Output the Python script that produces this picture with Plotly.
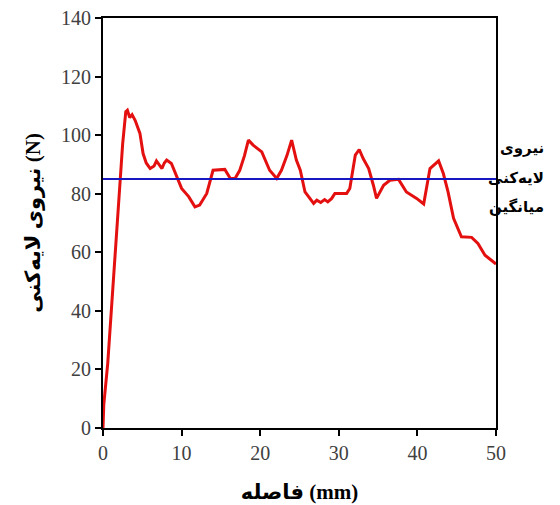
import plotly.graph_objects as go

# Peel force vs distance
distance_mm = [0, 0.1, 0.6, 1.2, 1.9, 2.5, 2.9, 3.1, 3.4, 3.7, 4.1, 4.4, 4.7, 5.1, 5.5, 6.0,
               6.5, 6.8, 7.2, 7.5, 7.8, 8.1, 8.7, 9.4, 10.0, 10.9, 11.7, 12.3, 13.2, 14.0,
               15.5, 16.2, 16.8, 17.4, 18.0, 18.5, 19.1, 20.2, 21.2, 22.1, 22.7, 23.4, 24.0,
               24.6, 25.1, 25.7, 26.3, 26.8, 27.2, 27.7, 28.2, 28.6, 29.1, 29.5, 31.0, 31.4,
               32.1, 32.6, 33.1, 33.8, 34.4, 34.8, 35.7, 36.5, 37.6, 38.6, 39.9, 40.8, 41.6,
               42.7, 43.3, 43.9, 44.6, 45.6, 46.9, 47.7, 48.6, 49.6, 50.0]
force_N = [0, 8, 22, 45, 75, 97, 108, 108.5, 106, 107, 105, 103, 100.6, 93.7, 90.5, 88.6,
           89.5, 91.2, 89.5, 88.6, 90.5, 91.5, 90.3, 85.8, 81.8, 79.0, 75.5, 76.1, 80.1, 88.0,
           88.3, 85.2, 85.2, 88.0, 93.0, 98.3, 96.6, 94.3, 88.0, 85.2, 88.0, 93.0, 98.3,
           91.5, 88.0, 80.6, 78.4, 76.7, 77.8, 77.0, 78.0, 77.2, 78.4, 80.1, 80.1, 81.8,
           93.2, 95.1, 92.0, 88.6, 82.9, 78.4, 82.9, 84.6, 84.9, 80.6, 78.4, 76.5, 88.6,
           91.2, 86.9, 80.6, 71.6, 65.3, 65.1, 63.0, 59.0, 56.8, 56.0]

mean_x = [0, 50]
mean_force = [85, 85]

x_ticks = [0, 10, 20, 30, 40, 50]
y_ticks = [0, 20, 40, 60, 80, 100, 120, 140]

x_title = "فاصله (mm)"
y_title = "نیروی لایەکنی (N)"
mean_label_lines = ["نیروی", "لایەکنی", "میانگین"]

serif = "Liberation Serif, DejaVu Sans, serif"

fig = go.Figure()
fig.add_trace(go.Scatter(x=distance_mm, y=force_N, mode="lines",
                         line=dict(color="#e41010", width=3), showlegend=False))
fig.add_trace(go.Scatter(x=mean_x, y=mean_force, mode="lines",
                         line=dict(color="#1818c0", width=2), showlegend=False))

axis_common = dict(showgrid=False, zeroline=False, showline=True, linecolor="black",
                   linewidth=2, mirror=True, ticks="outside", ticklen=6, tickwidth=2,
                   tickcolor="black", automargin=False, ticklabeloverflow="allow",
                   tickfont=dict(family=serif, size=20, color="#404040"))

fig.update_xaxes(range=[0, 50], tickvals=x_ticks, **axis_common,
                 title=dict(text=x_title, font=dict(family=serif, size=21, color="black",
                                                    weight="bold"), standoff=21))
fig.update_yaxes(range=[0, 140], tickvals=y_ticks, **axis_common,
                 title=dict(text=y_title, font=dict(family=serif, size=21, color="black",
                                                    weight="bold"), standoff=15))

label_y = [95.6, 85.3, 75.4]
for txt, yy in zip(mean_label_lines, label_y):
    fig.add_annotation(text=txt, xref="paper", x=1.127, xanchor="right",
                       yref="y", y=yy, yanchor="middle", showarrow=False,
                       font=dict(family="DejaVu Sans, sans-serif", size=15,
                                 color="black", weight="bold"))

fig.update_layout(width=552, height=497, margin=dict(l=95, r=64, t=10, b=77),
                  plot_bgcolor="white", paper_bgcolor="white")

fig.write_html("out.html")
